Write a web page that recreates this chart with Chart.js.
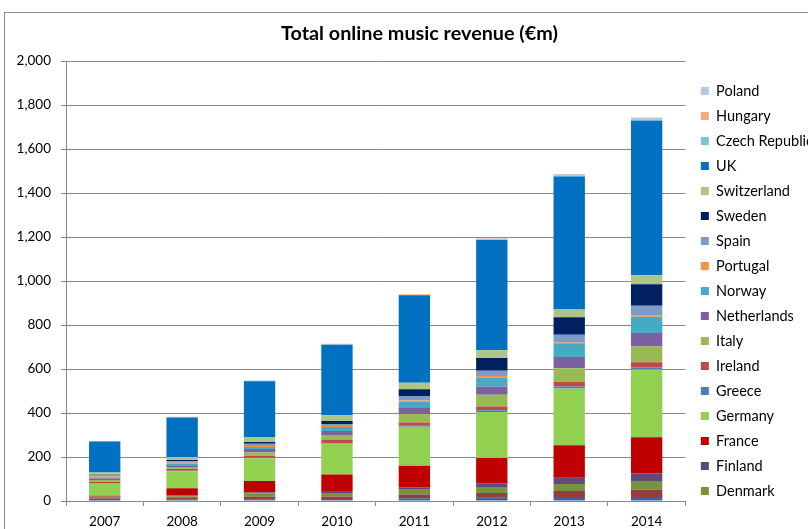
<!DOCTYPE html>
<html>
<head>
<meta charset="utf-8">
<script src="https://cdn.jsdelivr.net/npm/chart.js@4.4.1/dist/chart.umd.min.js"></script>
<style>
  html, body { margin: 0; padding: 0; background: #ffffff; overflow: hidden; }
  body { width: 808px; height: 529px; position: relative; }
  #frame {
    position: absolute; left: 4px; top: 12px;
    width: 830px; height: 556px;
    border: 1px solid #8c8c8c; background: #ffffff;
  }
  #chart { display: block; }
</style>
</head>
<body>
<div id="frame"><canvas id="chart" width="830" height="556"></canvas></div>
<script>
// Years on the category axis
const years = ['2007', '2008', '2009', '2010', '2011', '2012', '2013', '2014'];

// Online music revenue per country, €m (stacked bottom to top)
const austria     = [5, 6, 8, 9, 12, 15, 18, 18];
const belgium     = [6, 8, 11, 12, 18, 21, 27, 33];
const denmark     = [8, 8, 15, 15, 21, 24, 32, 36];
const finland     = [2, 3, 5, 9, 12, 21, 29, 39];
const france      = [3, 33, 52, 76, 97, 115, 147, 164];
const germany     = [54, 77, 103, 139, 177, 209, 259, 308];
const greece      = [2, 3, 3, 3, 5, 8, 9, 9];
const ireland     = [8, 8, 9, 14, 15, 17, 20, 24];
const italy       = [7, 8, 15, 23, 39, 53, 62, 71];
const netherlands = [7, 9, 15, 18, 27, 38, 52, 62];
const norway      = [6, 8, 9, 18, 29, 41, 59, 74];
const portugal    = [3, 3, 5, 5, 5, 6, 6, 6];
const spain       = [5, 7, 10, 9, 18, 24, 36, 44];
const sweden      = [3, 5, 8, 14, 33, 58, 79, 97];
const switzerland = [11, 14, 23, 26, 30, 35, 36, 41];
const uk          = [141, 180, 253, 320, 397, 502, 604, 703];
const czech       = [1, 1, 1, 2, 2, 3, 4, 5];
const hungary     = [0, 1, 1, 1, 2, 2, 4, 3];
const poland      = [1, 1, 2, 2, 2, 3, 3, 6];

// Value axis range
const yMin = 0;
const yMax = 2000;
const yStep = 200;

// Series that do not fit in the legend column (the two lowest in the stack)
const legendSkip = 2;

const series = [
  { label: 'Austria',        data: austria,     color: '#3c649f' },
  { label: 'Belgium',        data: belgium,     color: '#963c3a' },
  { label: 'Denmark',        data: denmark,     color: '#77933c' },
  { label: 'Finland',        data: finland,     color: '#604a7b' },
  { label: 'France',         data: france,      color: '#c00000' },
  { label: 'Germany',        data: germany,     color: '#92d050' },
  { label: 'Greece',         data: greece,      color: '#4a7ebb' },
  { label: 'Ireland',        data: ireland,     color: '#be4b48' },
  { label: 'Italy',          data: italy,       color: '#98b954' },
  { label: 'Netherlands',    data: netherlands, color: '#7d60a0' },
  { label: 'Norway',         data: norway,      color: '#46aac5' },
  { label: 'Portugal',       data: portugal,    color: '#f69240' },
  { label: 'Spain',          data: spain,       color: '#7e9bc8' },
  { label: 'Sweden',         data: sweden,      color: '#002060' },
  { label: 'Switzerland',    data: switzerland, color: '#adc687' },
  { label: 'UK',             data: uk,          color: '#0070c0' },
  { label: 'Czech Republic', data: czech,       color: '#7ec2d6' },
  { label: 'Hungary',        data: hungary,     color: '#faaa78' },
  { label: 'Poland',         data: poland,      color: '#b7c7e2' }
];

const gridColor = '#8a8a8a';
const fontFamily = 'Lato, "Liberation Sans", sans-serif';

new Chart(document.getElementById('chart'), {
  type: 'bar',
  data: {
    labels: years,
    datasets: series.map(s => ({
      label: s.label,
      data: s.data,
      backgroundColor: s.color,
      borderWidth: 0,
      barPercentage: 0.405,
      categoryPercentage: 1.0,
      yAxisID: 'y'
    }))
  },
  options: {
    responsive: false,
    animation: false,
    devicePixelRatio: 1,
    layout: { padding: { left: 11, right: 12, top: 0, bottom: 0 } },
    plugins: {
      tooltip: { enabled: false },
      title: {
        display: true,
        text: 'Total online music revenue (€m)',
        color: '#000000',
        font: { family: fontFamily, size: 19.8, weight: 'bold' },
        padding: { top: 8.3, bottom: 16 }
      },
      legend: {
        position: 'right',
        align: 'center',
        reverse: true,
        labels: {
          color: '#000000',
          font: { family: fontFamily, size: 14.5 },
          boxWidth: 8,
          boxHeight: 8,
          padding: 10.5,
          filter: (item) => item.datasetIndex >= legendSkip
        }
      }
    },
    scales: {
      x: {
        stacked: true,
        grid: {
          display: true,
          drawOnChartArea: false,
          drawTicks: true,
          tickLength: 5,
          color: gridColor,
          offset: true
        },
        border: { display: true, color: gridColor, width: 1 },
        ticks: {
          color: '#000000',
          font: { family: fontFamily, size: 13.5 },
          padding: 8,
          maxRotation: 0
        },
        afterFit: (scale) => { scale.height = 68; }
      },
      y: {
        stacked: true,
        min: yMin,
        max: yMax,
        grid: {
          color: gridColor,
          lineWidth: 1,
          drawTicks: true,
          tickLength: 5
        },
        border: { display: true, color: gridColor, width: 1 },
        ticks: {
          stepSize: yStep,
          color: '#000000',
          font: { family: fontFamily, size: 13.5 },
          padding: 10,
          callback: (v) => v.toLocaleString('en-US')
        },
        afterFit: (scale) => { scale.width = 50; }
      },
      gap: {
        axis: 'y',
        type: 'linear',
        position: 'right',
        display: true,
        grid: { display: false, drawTicks: false },
        border: { display: false },
        ticks: { display: false },
        afterFit: (scale) => { scale.width = 5; }
      }
    }
  }
});
</script>
</body>
</html>
